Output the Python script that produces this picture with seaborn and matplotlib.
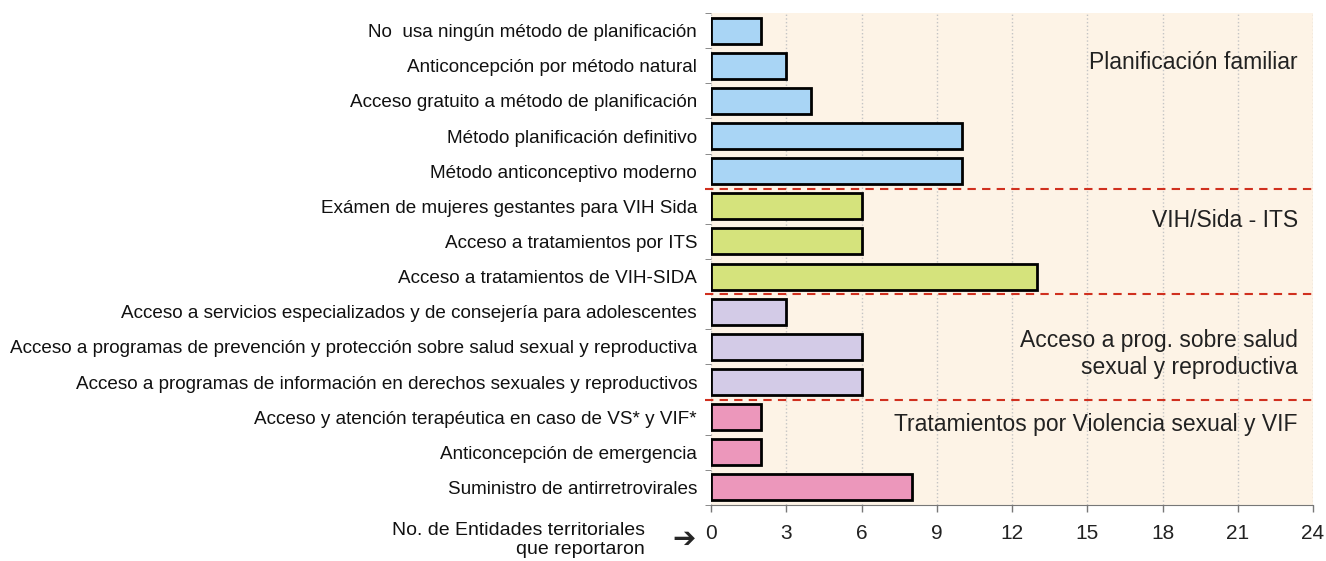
import pandas as pd
import matplotlib
matplotlib.use("Agg")
import matplotlib.pyplot as plt
import seaborn as sns

# Datos
categorias = [
    "No  usa ningún método de planificación",
    "Anticoncepción por método natural",
    "Acceso gratuito a método de planificación",
    "Método planificación definitivo",
    "Método anticonceptivo moderno",
    "Exámen de mujeres gestantes para VIH Sida",
    "Acceso a tratamientos por ITS",
    "Acceso a tratamientos de VIH-SIDA",
    "Acceso a servicios especializados y de consejería para adolescentes",
    "Acceso a programas de prevención y protección sobre salud sexual y reproductiva",
    "Acceso a programas de información en derechos sexuales y reproductivos",
    "Acceso y atención terapéutica en caso de VS* y VIF*",
    "Anticoncepción de emergencia",
    "Suministro de antirretrovirales",
]
valores = [2, 3, 4, 10, 10, 6, 6, 13, 3, 6, 6, 2, 2, 8]
grupos = ["plan"] * 5 + ["vih"] * 3 + ["prog"] * 3 + ["viol"] * 3
etiquetas_grupo = [
    "Planificación familiar",
    "VIH/Sida - ITS",
    "Acceso a prog. sobre salud\nsexual y reproductiva",
    "Tratamientos por Violencia sexual y VIF",
]
colores = {"plan": "#a9d5f5", "vih": "#d5e37c", "prog": "#d3cbe7", "viol": "#ec97bb"}

df = pd.DataFrame({"cat": categorias, "valor": valores, "grupo": grupos})

sns.set_style("white")
plt.rcParams["font.family"] = ["Liberation Sans", "DejaVu Sans"]

fig = plt.figure(figsize=(13.26, 5.61), dpi=100)
ax = fig.add_axes([0.5362, 0.0998, 0.454, 0.877])
ax.set_facecolor("#fdf3e6")

sns.barplot(data=df, x="valor", y="cat", hue="grupo", palette=colores, dodge=False,
            saturation=1, width=0.74, edgecolor="black", linewidth=2, legend=False, ax=ax)

ax.set_xlim(0, 24)
ax.set_ylim(13.5, -0.5)
ax.set_xticks(range(0, 25, 3))
ax.tick_params(axis="x", labelsize=15, length=5, width=1, color="#777777", pad=9,
               bottom=True, labelcolor="#222222")
ax.tick_params(axis="y", labelsize=13.6, length=0, pad=10, labelcolor="#111111")
ax.set_yticks([i + 0.5 for i in range(-1, 14)], minor=True)
ax.tick_params(axis="y", which="minor", length=4, color="#777777", left=True)
ax.grid(axis="x", linestyle=":", color="#c4c4c4", linewidth=1)
ax.set_axisbelow(True)
ax.set_xlabel("")
ax.set_ylabel("")
for s in ["top", "right", "left"]:
    ax.spines[s].set_visible(False)
ax.spines["bottom"].set_color("#777777")

# Separadores de grupos
for y in [4.5, 7.5, 10.5]:
    ax.axhline(y, color="#d0301f", linestyle=(0, (4, 3)), linewidth=1.5, xmin=-0.01, clip_on=False)

# Etiquetas de grupo
pos_grupo = [0.92, 5.39, 9.2, 11.22]
for yy, txt in zip(pos_grupo, etiquetas_grupo):
    ax.text(23.4, yy, txt, ha="right", va="center", fontsize=16.5, color="#222222",
            linespacing=1.2)

# Etiqueta del eje
fig.text(0.4864, 0.038, "No. de Entidades territoriales\nque reportaron", ha="right", va="center",
         fontsize=14, linespacing=1.15, color="#111111")
fig.text(0.516, 0.039, "\u2794", ha="center", va="center", fontsize=20,
         family="DejaVu Sans")

fig.savefig("out.png", dpi=100)
